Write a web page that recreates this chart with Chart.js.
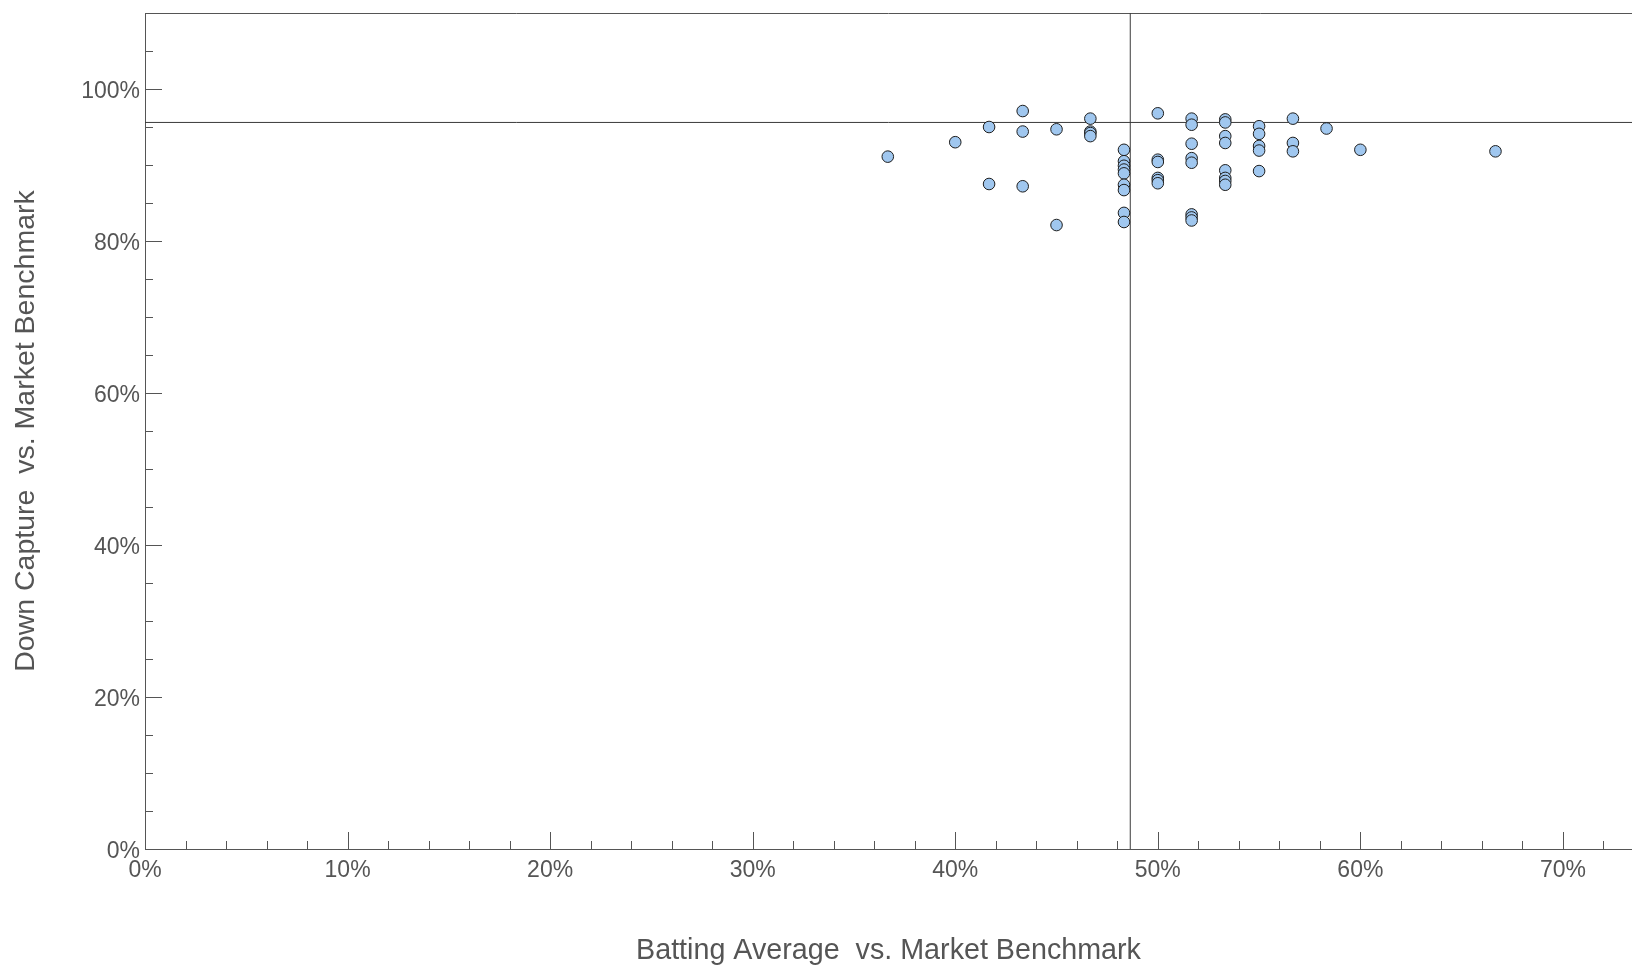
<!DOCTYPE html>
<html>
<head>
<meta charset="utf-8">
<title>Batting Average vs. Down Capture</title>
<script src="https://cdn.jsdelivr.net/npm/chart.js@4.4.1/dist/chart.umd.min.js"></script>
<style>
  html, body { margin: 0; padding: 0; background: #ffffff; overflow: hidden; }
  canvas { display: block; }
</style>
</head>
<body>
<canvas id="chart" width="1632" height="965"></canvas>
<script>
// Batting average vs. the market benchmark (%), one entry per fund
const battingAverage = [
  36.67,
  40.00,
  41.67, 41.67,
  43.33, 43.33, 43.33,
  45.00, 45.00,
  46.67, 46.67, 46.67, 46.67,
  48.33, 48.33, 48.33, 48.33, 48.33, 48.33, 48.33, 48.33, 48.33,
  50.00, 50.00, 50.00, 50.00, 50.00, 50.00,
  51.67, 51.67, 51.67, 51.67, 51.67, 51.67, 51.67, 51.67,
  53.33, 53.33, 53.33, 53.33, 53.33, 53.33, 53.33, 53.33,
  55.00, 55.00, 55.00, 55.00, 55.00,
  56.67, 56.67, 56.67,
  58.33,
  60.00,
  66.67
];

// Down capture vs. the market benchmark (%), same order as above
const downCapture = [
  91.1,
  93.0,
  95.0, 87.5,
  97.1, 94.4, 87.2,
  94.7, 82.1,
  96.1, 94.4, 94.2, 93.8,
  92.0, 90.5, 89.9, 89.4, 88.9, 87.4, 86.7, 83.7, 82.5,
  96.8, 90.7, 90.4, 88.3, 88.0, 87.6,
  96.1, 95.3, 92.8, 90.9, 90.3, 83.5, 83.1, 82.7,
  96.0, 95.6, 93.8, 92.9, 89.3, 88.3, 87.9, 87.4,
  95.1, 94.1, 92.5, 91.9, 89.2,
  96.1, 92.9, 91.8,
  94.8,
  92.0,
  91.8
];

// Reference (average) lines
const battingReference = 48.64;
const captureReference = 95.6;

// Axis ranges and labelled ticks
const xRange = [0, 73.41];
const yRange = [0, 110];
const xTickValues = [0, 10, 20, 30, 40, 50, 60, 70];
const yTickValues = [0, 20, 40, 60, 80, 100];
const xMinorStep = 2;
const yMinorStep = 5;

const FONT = "'Liberation Sans', Arial, Helvetica, sans-serif";
const INK = '#555555';
const LINE = '#3a3a3a';

// Inward-pointing tick marks on both axes, plus the top frame line
const axisMarks = {
  id: 'axisMarks',
  beforeDatasetsDraw(chart) {
    const { ctx, chartArea: a } = chart;
    const xs = chart.scales.x, ys = chart.scales.y;
    ctx.save();
    ctx.strokeStyle = INK;
    ctx.lineWidth = 1;
    ctx.beginPath();
    for (let i = 1; i * xMinorStep <= xRange[1]; i++) {
      const v = i * xMinorStep;
      const px = Math.round(xs.getPixelForValue(v)) + 0.5;
      const len = xTickValues.includes(v) ? 17 : 8;
      ctx.moveTo(px, a.bottom);
      ctx.lineTo(px, a.bottom - len);
    }
    for (let i = 1; i * yMinorStep < yRange[1]; i++) {
      const v = i * yMinorStep;
      const py = Math.round(ys.getPixelForValue(v)) + 0.5;
      const len = yTickValues.includes(v) ? 17 : 8;
      ctx.moveTo(a.left, py);
      ctx.lineTo(a.left + len, py);
    }
    ctx.moveTo(a.left, Math.round(a.top) + 0.5);
    ctx.lineTo(a.right, Math.round(a.top) + 0.5);
    ctx.stroke();
    ctx.restore();
  }
};

const points = battingAverage.map((x, i) => ({ x: x, y: downCapture[i] }));

new Chart(document.getElementById('chart'), {
  type: 'scatter',
  data: {
    datasets: [
      {
        label: 'Funds',
        data: points,
        pointRadius: 5.8,
        pointHoverRadius: 5.8,
        pointBackgroundColor: '#a0c7ef',
        pointBorderColor: '#1e1e1e',
        pointBorderWidth: 1,
        order: 1
      },
      {
        label: 'Down capture reference',
        data: [{ x: xRange[0], y: captureReference }, { x: xRange[1], y: captureReference }],
        showLine: true,
        borderColor: LINE,
        borderWidth: 1,
        pointRadius: 0,
        order: 2
      },
      {
        label: 'Batting average reference',
        data: [{ x: battingReference, y: yRange[0] }, { x: battingReference, y: yRange[1] }],
        showLine: true,
        borderColor: LINE,
        borderWidth: 1,
        pointRadius: 0,
        order: 2
      }
    ]
  },
  options: {
    responsive: false,
    animation: false,
    devicePixelRatio: 1,
    layout: { autoPadding: false, padding: { top: 13, right: 0, bottom: 0, left: 0 } },
    plugins: {
      legend: { display: false },
      tooltip: { enabled: false }
    },
    scales: {
      x: {
        type: 'linear',
        position: 'bottom',
        min: xRange[0],
        max: xRange[1],
        afterBuildTicks: s => { s.ticks = xTickValues.map(v => ({ value: v })); },
        afterFit: s => { s.height = 116; s.paddingLeft = 0; s.paddingRight = 0; },
        grid: { display: false, drawTicks: false },
        border: { display: true, color: INK, width: 1 },
        ticks: {
          autoSkip: false,
          maxRotation: 0,
          padding: 8,
          color: INK,
          font: { family: FONT, size: 23 },
          callback: v => v + '%'
        },
        title: {
          display: true,
          text: 'Batting Average  vs. Market Benchmark',
          color: INK,
          font: { family: FONT, size: 28.7 },
          padding: { top: 0, bottom: -3 }
        }
      },
      y: {
        type: 'linear',
        position: 'left',
        min: yRange[0],
        max: yRange[1],
        afterBuildTicks: s => { s.ticks = yTickValues.map(v => ({ value: v })); },
        afterFit: s => { s.width = 145; s.paddingTop = 0; s.paddingBottom = 0; },
        grid: { display: false, drawTicks: false },
        border: { display: true, color: INK, width: 1 },
        ticks: {
          autoSkip: false,
          padding: 5,
          labelOffset: 3,
          color: INK,
          font: { family: FONT, size: 23 },
          callback: v => v + '%'
        },
        title: {
          display: true,
          text: 'Down Capture  vs. Market Benchmark',
          color: INK,
          font: { family: FONT, size: 28.5 },
          padding: { top: 9, bottom: 0 }
        }
      }
    }
  },
  plugins: [axisMarks]
});
</script>
</body>
</html>
